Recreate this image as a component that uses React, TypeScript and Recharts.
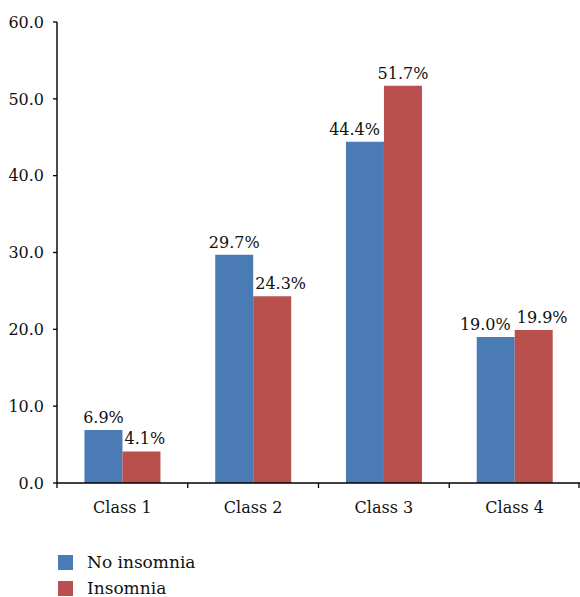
import React from "react";
import { BarChart, Bar, XAxis, YAxis, LabelList } from "recharts";

const categories = ["Class 1", "Class 2", "Class 3", "Class 4"];
const noInsomnia = [6.9, 29.7, 44.4, 19.0];
const insomnia = [4.1, 24.3, 51.7, 19.9];
const yTicks = [0, 10, 20, 30, 40, 50, 60];
const seriesNames = ["No insomnia", "Insomnia"];

const data = categories.map((c, i) => ({ name: c, a: noInsomnia[i], b: insomnia[i] }));

const W = 580;
const H = 597;
const LEFT = 57;
const FONT = "DejaVu Serif";
const FS = 16;
const BLUE = "#4B7BB5";
const RED = "#B9504E";
const band = (W - LEFT) / categories.length;

const XTick = (props: any) => {
  const { x, y, payload, index } = props;
  const last = index === categories.length - 1;
  return (
    <g>
      <line x1={x - band / 2} x2={x - band / 2} y1={y} y2={y + 5} stroke="#000" strokeWidth={1.3} />
      {last && <line x1={x + band / 2 - 1} x2={x + band / 2 - 1} y1={y} y2={y + 5} stroke="#000" strokeWidth={1.3} />}
      <text x={x} y={y + 30} textAnchor="middle" fontFamily={FONT} fontSize={FS} fill="#111">
        {payload.value}
      </text>
    </g>
  );
};

const makeLabel = (series: "a" | "b") => (props: any) => {
  const { x, y, width, value, index } = props;
  const other = series === "a" ? insomnia[index] : noInsomnia[index];
  let tx = x + width / 2;
  let anchor: any = "middle";
  if (other >= value - 1) {
    if (series === "a") {
      tx = x + width - 4;
      anchor = "end";
    } else {
      tx = x + 2;
      anchor = "start";
    }
  }
  return (
    <text x={tx} y={y - 7} textAnchor={anchor} fontFamily={FONT} fontSize={FS} fill="#111">
      {Number(value).toFixed(1)}%
    </text>
  );
};

export default function App() {
  return (
    <div style={{ position: "absolute", left: 0, top: 0, width: W, height: H, background: "#fff" }}>
      <BarChart
        width={W}
        height={H}
        data={data}
        margin={{ top: 22, right: 0, bottom: 74, left: 0 }}
        barCategoryGap="21%"
        barGap={0}
      >
        <XAxis
          dataKey="name"
          height={40}
          tickLine={false}
          tickSize={0}
          tickMargin={0}
          axisLine={{ stroke: "#000", strokeWidth: 1.4 }}
          tick={<XTick />}
          interval={0}
        />
        <YAxis
          width={LEFT}
          domain={[0, 60]}
          ticks={yTicks}
          tickSize={4}
          tickMargin={9}
          tickFormatter={(v: number) => v.toFixed(1)}
          axisLine={{ stroke: "#000", strokeWidth: 1.4 }}
          tickLine={{ stroke: "#000", strokeWidth: 1.3 }}
          tick={{ fontFamily: FONT, fontSize: FS, fill: "#111" }}
        />
        <Bar dataKey="a" name={seriesNames[0]} fill={BLUE} isAnimationActive={false}>
          <LabelList dataKey="a" content={makeLabel("a")} />
        </Bar>
        <Bar dataKey="b" name={seriesNames[1]} fill={RED} isAnimationActive={false}>
          <LabelList dataKey="b" content={makeLabel("b")} />
        </Bar>
      </BarChart>
      <div style={{ position: "absolute", left: 58, top: 555, fontFamily: FONT, fontSize: 17, color: "#111" }}>
        {seriesNames.map((n, i) => (
          <div key={n} style={{ display: "flex", alignItems: "center", height: 15, lineHeight: "15px", marginBottom: i === 0 ? 11 : 0 }}>
            <span style={{ display: "inline-block", width: 15, height: 15, background: i === 0 ? BLUE : RED, marginRight: 14 }} />
            <span>{n}</span>
          </div>
        ))}
      </div>
    </div>
  );
}
